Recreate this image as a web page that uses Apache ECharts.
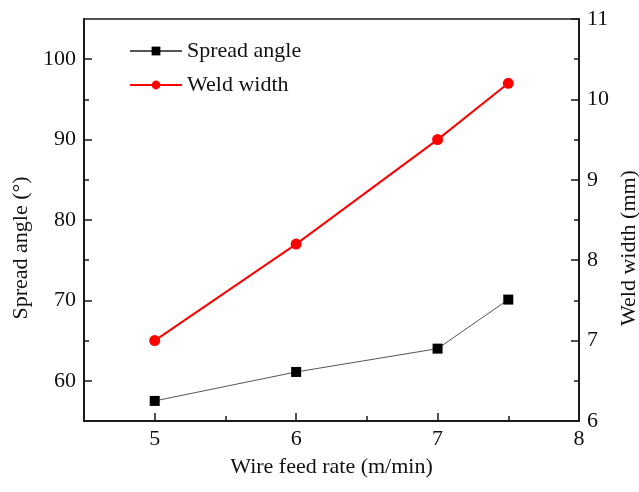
<!DOCTYPE html>
<html><head><meta charset="utf-8">
<script src="https://cdn.jsdelivr.net/npm/echarts@6/dist/echarts.min.js"></script>
<style>html,body{margin:0;padding:0;background:#fff}#c{width:639px;height:492px}</style>
</head><body><div id="c"></div>
<script>
const wireFeed = [5, 6, 7, 7.5];
const spreadAngle = [57.5, 61.1, 64.0, 70.1];
const weldWidth = [7.0, 8.2, 9.5, 10.2];
const xTicks = [5, 6, 7, 8];
const xMinorTicks = [5.5, 6.5, 7.5];
const leftTicks = [60, 70, 80, 90, 100];
const leftMinorTicks = [65, 75, 85, 95];

const FONT = '"Liberation Serif", "Times New Roman", serif';
const ax = '#1a1a1a';
const chart = echarts.init(document.getElementById('c'));
const pairs = (xs, ys) => xs.map((x, i) => [x, ys[i]]);

chart.setOption({
  animation: false,
  backgroundColor: '#fff',
  grid: { left: 84, right: 60, top: 19, bottom: 71, outerBoundsMode: 'none', containLabel: false, show: true, borderColor: ax, borderWidth: 1.5, backgroundColor: 'transparent' },
  legend: {
    left: 124, top: 35, orient: 'vertical', itemWidth: 52, itemHeight: 11, itemGap: 12,
    textStyle: { fontFamily: FONT, fontSize: 22, color: '#111' },
    data: ['Spread angle', 'Weld width']
  },
  xAxis: [{
    type: 'value', min: 4.5, max: 8,
    name: 'Wire feed rate (m/min)', nameLocation: 'middle', nameGap: 35,
    nameTextStyle: { fontFamily: FONT, fontSize: 22, color: '#111' },
    axisLine: { lineStyle: { color: ax, width: 2 } },
    axisTick: { inside: true, length: 8, customValues: xTicks, lineStyle: { color: ax, width: 1.5 } },
    axisLabel: { customValues: xTicks, fontFamily: FONT, fontSize: 22, color: '#111', margin: 7 },
    splitLine: { show: false }
  }, {
    type: 'value', min: 4.5, max: 8, position: 'bottom',
    axisLine: { show: false },
    axisTick: { inside: true, length: 5, customValues: xMinorTicks, lineStyle: { color: ax, width: 1.5 } },
    axisLabel: { show: false }, splitLine: { show: false }
  }],
  yAxis: [{
    type: 'value', min: 55, max: 105, position: 'left',
    name: 'Spread angle (°)', nameLocation: 'middle', nameGap: 52,
    nameTextStyle: { fontFamily: FONT, fontSize: 22, color: '#111', padding: [0, 56, 0, 0] },
    axisLine: { show: true, lineStyle: { color: ax, width: 2 } },
    axisTick: { inside: true, length: 8, customValues: leftTicks, lineStyle: { color: ax, width: 1.5 } },
    axisLabel: { customValues: leftTicks, fontFamily: FONT, fontSize: 22, color: '#111', margin: 8 },
    splitLine: { show: false }
  }, {
    type: 'value', min: 6, max: 11, interval: 1, position: 'right',
    name: 'Weld width (mm)', nameLocation: 'middle', nameGap: 39, nameMoveOverlap: false,
    nameTextStyle: { fontFamily: FONT, fontSize: 22, color: '#111', padding: [0, 56, 0, 0] },
    axisLine: { show: true, lineStyle: { color: ax, width: 2 } },
    axisTick: { inside: true, length: 8, lineStyle: { color: ax, width: 1.5 } },
    minorTick: { show: true, splitNumber: 2, length: 5, lineStyle: { color: ax, width: 1.5 } },
    axisLabel: { fontFamily: FONT, fontSize: 22, color: '#111', margin: 8 },
    splitLine: { show: false }
  }, {
    type: 'value', min: 55, max: 105, position: 'left',
    axisLine: { show: false },
    axisTick: { inside: true, length: 5, customValues: leftMinorTicks, lineStyle: { color: ax, width: 1.5 } },
    axisLabel: { show: false }, splitLine: { show: false }
  }],
  series: [{
    name: 'Spread angle', type: 'line', xAxisIndex: 0, yAxisIndex: 0,
    data: pairs(wireFeed, spreadAngle),
    symbol: 'rect', symbolSize: 10,
    lineStyle: { color: '#555', width: 1 },
    itemStyle: { color: '#000' }
  }, {
    name: 'Weld width', type: 'line', xAxisIndex: 0, yAxisIndex: 1,
    data: pairs(wireFeed, weldWidth),
    symbol: 'circle', symbolSize: 11,
    lineStyle: { color: '#ff0000', width: 2 },
    itemStyle: { color: '#ff0000' }
  }]
});
</script></body></html>
